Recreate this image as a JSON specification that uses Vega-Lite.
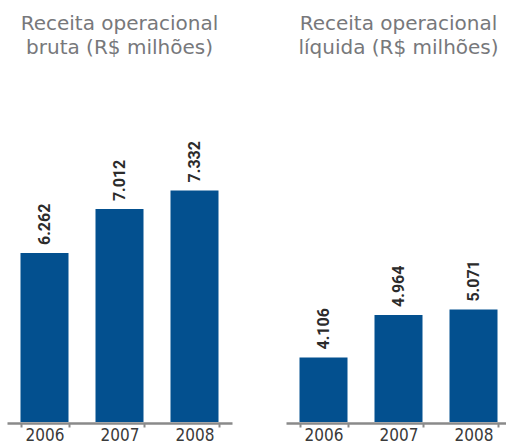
{
  "$schema": "https://vega.github.io/schema/vega-lite/v6.json",
  "background": "white",
  "padding": {"left": 7, "top": 14, "right": 0, "bottom": 0},
  "spacing": 54,
  "config": {
    "view": {"stroke": null},
    "locale": {"number": {"decimal": ",", "thousands": ".", "grouping": [3], "currency": ["R$", ""]}}
  },
  "data": {"values": [
    {"tipo": "bruta", "ano": "2006", "valor": 6262},
    {"tipo": "bruta", "ano": "2007", "valor": 7012},
    {"tipo": "bruta", "ano": "2008", "valor": 7332},
    {"tipo": "liquida", "ano": "2006", "valor": 4106},
    {"tipo": "liquida", "ano": "2007", "valor": 4964},
    {"tipo": "liquida", "ano": "2008", "valor": 5071}
  ]},
  "hconcat": [
    {
      "width": 225, "height": 341,
      "title": {"text": ["Receita operacional", "bruta (R$ milhões)"], "font": "DejaVu Sans", "fontSize": 20, "fontWeight": "normal", "color": "#77787b", "lineHeight": 24, "offset": 23, "anchor": "middle"},
      "transform": [{"filter": "datum.tipo === 'bruta'"}],
      "encoding": {
        "x": {"field": "ano", "type": "ordinal", "title": null,
          "scale": {"paddingInner": 0.36, "paddingOuter": 0.18},
          "axis": {"labelAngle": 0, "labelFont": "DejaVu Sans Condensed, Roboto, sans-serif", "labelFontSize": 17, "labelColor": "#3a3a3a", "labelBaseline": "alphabetic", "domainColor": "#8a8a8a", "domainWidth": 2.5, "tickColor": "#8a8a8a", "tickWidth": 2, "tickSize": 4, "tickBand": "extent", "labelPadding": 13, "offset": 1}},
        "y": {"field": "valor", "type": "quantitative", "scale": {"domain": [3373, 9202], "zero": false, "nice": false}, "axis": null}
      },
      "layer": [
        {"mark": {"type": "bar", "color": "#03508f", "clip": true}},
        {"mark": {"type": "text", "angle": 270, "align": "left", "baseline": "middle", "dx": 8, "font": "Roboto", "fontWeight": "bold", "fontSize": 16, "color": "#2b2b2b"},
          "encoding": {"text": {"field": "valor", "type": "quantitative", "format": ",d"}}}
      ]
    },
    {
      "width": 225, "height": 341,
      "title": {"text": ["Receita operacional", "líquida (R$ milhões)"], "font": "DejaVu Sans", "fontSize": 20, "fontWeight": "normal", "color": "#77787b", "lineHeight": 24, "offset": 23, "anchor": "middle"},
      "transform": [{"filter": "datum.tipo === 'liquida'"}],
      "encoding": {
        "x": {"field": "ano", "type": "ordinal", "title": null,
          "scale": {"paddingInner": 0.36, "paddingOuter": 0.18},
          "axis": {"labelAngle": 0, "labelFont": "DejaVu Sans Condensed, Roboto, sans-serif", "labelFontSize": 17, "labelColor": "#3a3a3a", "labelBaseline": "alphabetic", "domainColor": "#8a8a8a", "domainWidth": 2.5, "tickColor": "#8a8a8a", "tickWidth": 2, "tickSize": 4, "tickBand": "extent", "labelPadding": 13, "offset": 1}},
        "y": {"field": "valor", "type": "quantitative", "scale": {"domain": [2805, 9680], "zero": false, "nice": false}, "axis": null}
      },
      "layer": [
        {"mark": {"type": "bar", "color": "#03508f", "clip": true}},
        {"mark": {"type": "text", "angle": 270, "align": "left", "baseline": "middle", "dx": 8, "font": "Roboto", "fontWeight": "bold", "fontSize": 16, "color": "#2b2b2b"},
          "encoding": {"text": {"field": "valor", "type": "quantitative", "format": ",d"}}}
      ]
    }
  ]
}
